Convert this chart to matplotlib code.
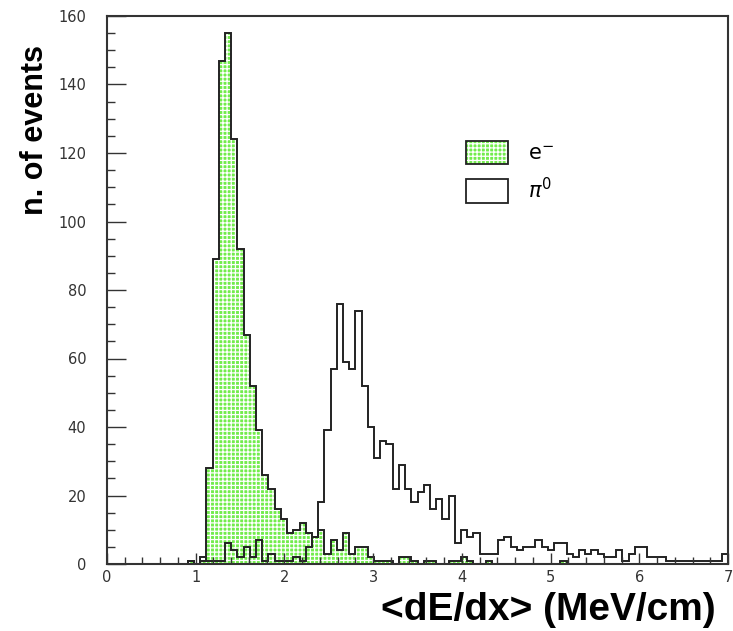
import numpy as np
import matplotlib
matplotlib.use("Agg")
import matplotlib.pyplot as plt
from matplotlib.ticker import MultipleLocator
from matplotlib.patches import Patch
from matplotlib.legend_handler import HandlerTuple

# ---- data (100 bins from 0 to 7) ----
x_min, x_max, n_bins = 0.0, 7.0, 100

electron = [0]*13 + [1, 0, 1, 28, 89, 147, 155, 124, 92, 67, 52, 39, 26, 22, 16, 13,
            9, 10, 12, 9, 8, 10, 3, 7, 4, 9, 3, 5, 5, 2, 1, 1, 1, 0, 2, 2,
            1, 0, 1, 1, 0, 0, 1, 1, 2, 1, 0, 0, 1, 0] + [0]*10 + [1] + [0]*26

pion = [0]*13 + [1, 0, 2, 1, 1, 1, 6, 4, 2, 5, 2, 7, 1, 3, 1, 1, 1, 2, 1, 5, 8,
        18, 39, 57, 76, 59, 57, 74, 52, 40, 31, 36, 35, 22, 29, 22, 18, 21, 23,
        16, 19, 13, 20, 6, 10, 8, 9, 3, 3, 3, 7, 8, 5, 4, 5, 5, 7, 5, 4, 6, 6,
        3, 2, 4, 3, 4, 3, 2, 2, 4, 1, 3, 5, 5, 2, 2, 2, 1, 1, 1, 1, 1, 1, 1, 1,
        1, 3]

electron = np.array(electron[:n_bins], dtype=float)
pion = np.array(pion[:n_bins], dtype=float)

x_label = "<dE/dx> (MeV/cm)"
y_label = "n. of events"
legend_labels = [r"$\mathrm{e}^{-}$", r"$\pi^{0}$"]

edges = np.linspace(x_min, x_max, n_bins + 1)

plt.rcParams['hatch.linewidth'] = 0.9
plt.rcParams['mathtext.fontset'] = 'dejavusans'

fig = plt.figure(figsize=(7.33, 6.31), dpi=100)
ax = fig.add_axes([107/733, 1 - 564/631, (728 - 107)/733, (564 - 16)/631])

green = "#72ec4c"
ax.stairs(electron, edges, fill=True, facecolor=green, edgecolor="white",
          hatch="++++", linewidth=0)
ax.stairs(electron, edges, baseline=0, color="#222222", linewidth=1.4)
ax.stairs(pion, edges, baseline=0, color="#222222", linewidth=1.4)

ax.set_xlim(x_min, x_max)
ax.set_ylim(0, 160)
ax.xaxis.set_major_locator(MultipleLocator(1))
ax.xaxis.set_minor_locator(MultipleLocator(0.2))
ax.yaxis.set_major_locator(MultipleLocator(20))
ax.yaxis.set_minor_locator(MultipleLocator(5))
ax.tick_params(axis="both", which="both", direction="in", top=False, right=False,
               color="#333333", width=1.0)
ax.tick_params(axis="y", which="major", length=14, pad=15, labelsize=10.5, labelcolor="#333333")
ax.tick_params(axis="y", which="minor", length=6)
ax.tick_params(axis="x", which="major", length=8, pad=4, labelsize=10.5, labelcolor="#333333")
ax.tick_params(axis="x", which="minor", length=5)
for s in ax.spines.values():
    s.set_linewidth(1.5)
    s.set_color("#333333")

fig.text(548/733, 1 - 610/631, x_label, ha="center", va="center",
         fontsize=28, fontweight="bold", family="Liberation Sans")
fig.text(35/733, 1 - 130/631, y_label, ha="center", va="center", rotation=90,
         fontsize=22, fontweight="bold", family="Liberation Sans")

# legend
h_e = (Patch(facecolor=green, edgecolor="white", hatch="++++", linewidth=0),
       Patch(facecolor="none", edgecolor="#222222", linewidth=1.3))
h_p = Patch(facecolor="white", edgecolor="#222222", linewidth=1.3)
leg = ax.legend([h_e, h_p], legend_labels, loc="upper left",
                handler_map={tuple: HandlerTuple(ndivide=1, pad=0)},
                bbox_to_anchor=((466 - 107)/621, 1 - (141 - 16)/548),
                frameon=False, fontsize=15, handlelength=2.0, handleheight=1.35,
                handletextpad=1.0, labelspacing=0.6, borderaxespad=0, borderpad=0)
fig.savefig("out.png", dpi=100)
